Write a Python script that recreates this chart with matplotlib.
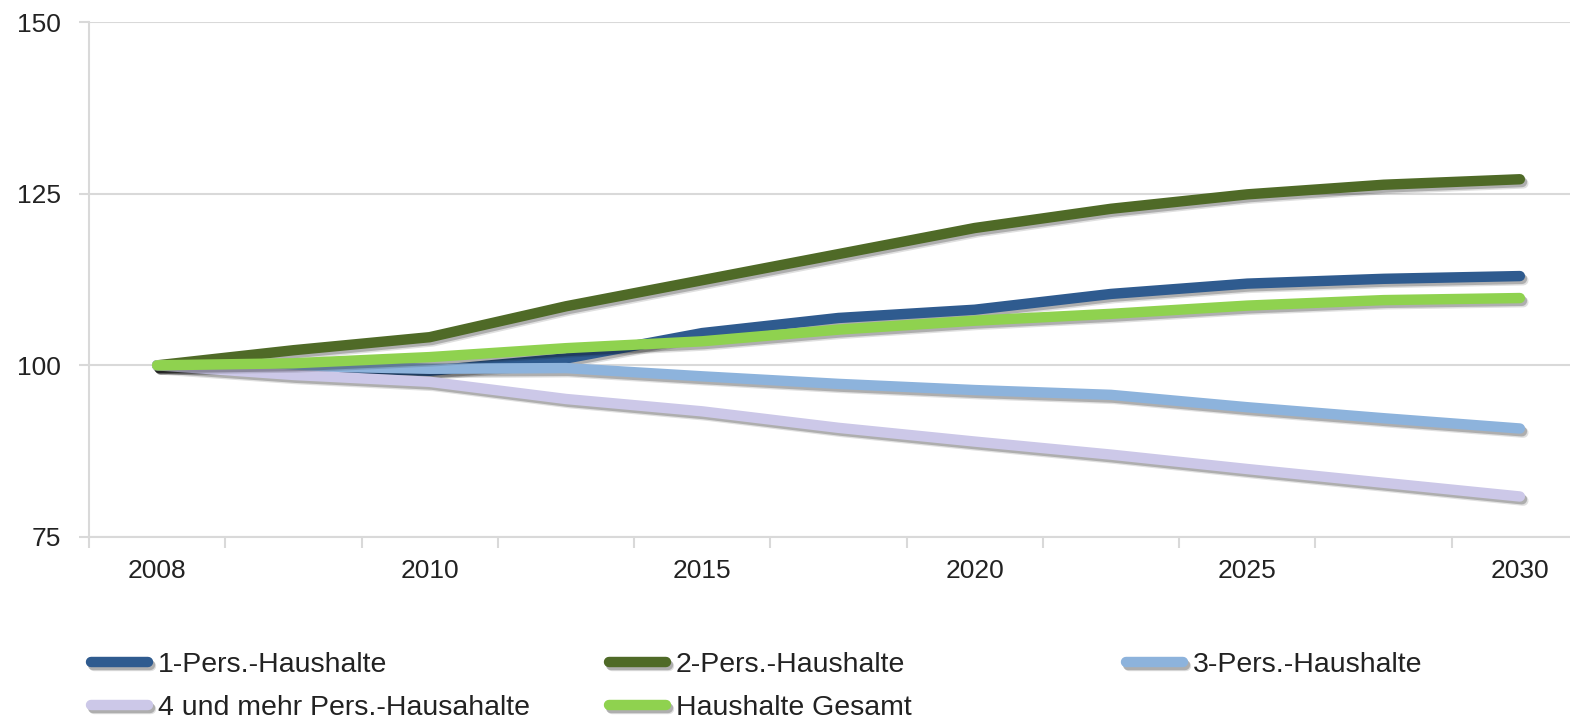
import matplotlib
matplotlib.use('Agg')
import matplotlib.pyplot as plt
import matplotlib.patheffects as pe
import numpy as np

# Index values of household numbers, 2008 = 100
years = ["2008", "", "2010", "", "2015", "", "2020", "", "2025", "", "2030"]
one_person = [100, 99.8, 99.2, 101.0, 104.7, 106.9, 108.1, 110.4, 111.9, 112.6, 113.0]
two_person = [100, 102.2, 104.1, 108.6, 112.4, 116.2, 120.0, 122.8, 124.9, 126.3, 127.1]
three_person = [100, 99.9, 99.5, 99.6, 98.4, 97.3, 96.4, 95.7, 93.9, 92.3, 90.8]
four_plus = [100, 98.6, 97.6, 95.1, 93.3, 90.9, 88.9, 87.0, 84.9, 82.9, 80.9]
total = [100, 100.3, 101.2, 102.5, 103.5, 105.2, 106.5, 107.5, 108.7, 109.5, 109.8]

labels = ["1-Pers.-Haushalte", "2-Pers.-Haushalte", "3-Pers.-Haushalte",
          "4 und mehr Pers.-Hausahalte", "Haushalte Gesamt"]
colors = ["#2f5b8f", "#4f6a27", "#8db3dc", "#ccc8e8", "#8fd24f"]

plt.rcParams['font.family'] = ['Liberation Sans', 'DejaVu Sans']

fig = plt.figure(figsize=(15.7, 7.18), dpi=100)
ax = fig.add_axes([89 / 1570, 1 - 537 / 718, 1499 / 1570, 515 / 718])

x = np.arange(len(years))
# soft drop shadow under every line
shadow = [pe.SimpleLineShadow(offset=(2.5, -3), shadow_color='k', alpha=0.12),
          pe.SimpleLineShadow(offset=(1.5, -2), shadow_color='k', alpha=0.22),
          pe.Normal()]
lines = []
for vals, col, lab in zip([one_person, two_person, three_person, four_plus, total],
                          colors, labels):
    ln, = ax.plot(x, vals, color=col, lw=7.5, solid_capstyle='round',
                  solid_joinstyle='round', label=lab, path_effects=shadow)
    lines.append(ln)

ax.set_xlim(-0.5, len(years) - 0.5)
ax.set_ylim(75, 150)
ax.set_yticks([75, 100, 125, 150])
ax.set_xticks(x)
ax.set_xticklabels(years)
ax.set_xticks(np.arange(-0.5, len(years), 1), minor=True)

grid_col = '#d9d9d9'
ax.yaxis.grid(True, color=grid_col, lw=1.5)
ax.set_axisbelow(True)
for s in ['top', 'right']:
    ax.spines[s].set_visible(False)
for s in ['left', 'bottom']:
    ax.spines[s].set_color(grid_col)
    ax.spines[s].set_linewidth(1.5)

ax.tick_params(axis='y', length=7, width=1.5, color=grid_col, pad=13,
               labelsize=19, labelcolor='#222222')
ax.tick_params(axis='x', which='major', length=0, pad=16,
               labelsize=19, labelcolor='#222222')
ax.tick_params(axis='x', which='minor', length=8, width=1.5, color=grid_col)

# legend: three columns, filled row by row
cols = [[0, 3], [1, 4], [2]]
col_x = [91, 609, 1126]
for idx, cx in zip(cols, col_x):
    fig.legend([lines[i] for i in idx], [labels[i] for i in idx],
               loc='upper left', bbox_to_anchor=(cx / 1570, 1 - 652 / 718),
               frameon=False, fontsize=20.5, handlelength=2.0, handletextpad=0.35,
               labelspacing=0.6, borderpad=0, borderaxespad=0,
               labelcolor='#222222')

fig.savefig('out.png', dpi=100, facecolor='white')
